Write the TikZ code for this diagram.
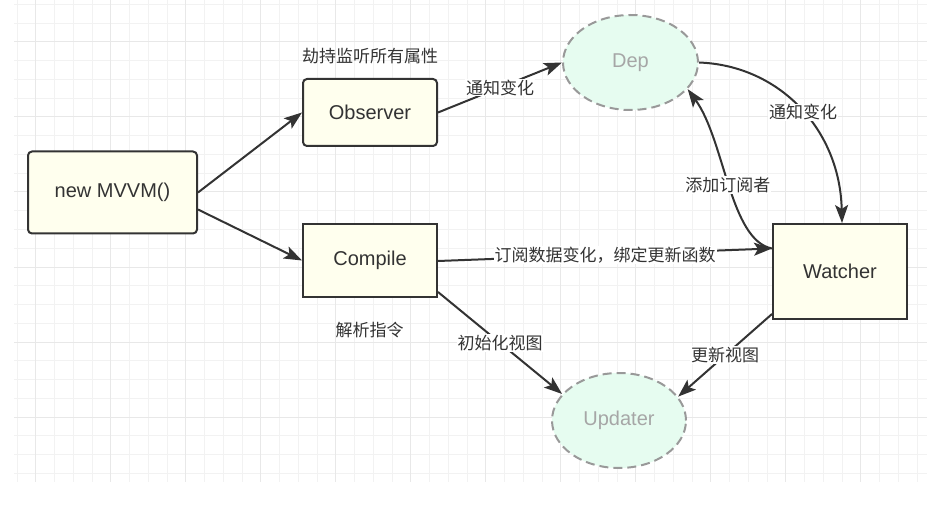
\documentclass[tikz,border=0pt]{standalone}
\usepackage{fontspec}
\setmainfont{Liberation Sans}
\newfontfamily\cjk{Noto Sans CJK SC}
\usetikzlibrary{arrows.meta,shapes.geometric}
\definecolor{boxfill}{HTML}{FFFFEE}
\definecolor{depfill}{HTML}{E6FCF0}
\definecolor{inkgray}{HTML}{333333}
\tikzset{
  classbox/.style={draw=inkgray, line width=2pt, fill=boxfill, text=inkgray,
    font=\fontsize{20}{24}\selectfont, inner sep=0pt},
  roundbox/.style={classbox, rounded corners=4pt},
  helper/.style={ellipse, draw=black!40, dash pattern=on 9pt off 5pt, line width=2pt,
    fill=depfill, text=black!35, font=\fontsize{20}{24}\selectfont, inner sep=0pt},
  flow/.style={draw=inkgray, line width=2pt, -{Stealth[length=18pt,width=13pt,inset=4pt]}},
  note/.style={font=\cjk\fontsize{17}{20}\selectfont, text=inkgray, inner sep=1pt},
  flownote/.style={note, fill=white},
  minorgrid/.style={draw=black!5, line width=1pt},
  majorgrid/.style={draw=black!9, line width=1pt},
}
\begin{document}
\begin{tikzpicture}[x=1pt,y=-1pt]
\useasboundingbox (0,0) rectangle (938,508);
% Background grid.
\foreach \k in {0,...,48} {\draw[minorgrid] ({17+18.75*\k},0) -- ({17+18.75*\k},482);}
\foreach \k in {0,...,25} {\draw[minorgrid] (14,{4.5+18.75*\k}) -- (927,{4.5+18.75*\k});}
\foreach \k in {0,...,11} {\draw[majorgrid] ({35.75+75*\k},0) -- ({35.75+75*\k},482);}
\foreach \k in {0,...,5} {\draw[majorgrid] (14,{42+75*\k}) -- (927,{42+75*\k});}

\node[roundbox, minimum width=169pt, minimum height=82pt] (mvvm) at (112.5,192.5) {new MVVM()};
\node[roundbox, minimum width=134pt, minimum height=67pt] (observer) at (370,112.5) {Observer};
\node[classbox, minimum width=134pt, minimum height=73pt] (compile) at (370,260.5) {Compile};
\node[classbox, minimum width=134pt, minimum height=95pt] (watcher) at (840,271.5) {Watcher};
\node[helper, minimum width=135pt, minimum height=95pt] (dep) at (630.5,62.5) {Dep};
\node[helper, minimum width=134pt, minimum height=95pt] (updater) at (619,420.5) {Updater};

\node[note] (hijack) at (370,56) {劫持监听所有属性};
\node[note] (parse) at (369.5,330) {解析指令};

% Observer and Compile.
\draw[flow] (mvvm.east) -- (observer.west);
\draw[flow] ([yshift=-17pt]mvvm.east) -- (compile.west);
\draw[flow] (observer.east) -- node[flownote] {通知变化} (dep.west);
% Dep and Watcher.
\draw[flow] (dep.east) .. controls +(81,3) and +(-2,-93) .. node[flownote, pos=0.52] {通知变化} ([xshift=2pt]watcher.north);
\draw[flow] ([yshift=23pt]watcher.west) .. controls +(-42,-8) and +(37,51) .. node[flownote] {添加订阅者} (dep.-25);
\draw[flow] ([yshift=-0.5pt]compile.east) -- node[flownote] {订阅数据变化，绑定更新函数} ([yshift=23pt]watcher.west);
% Updater.
\draw[flow] ([yshift=6pt]compile.south east) -- node[flownote] {初始化视图} (updater.155);
\draw[flow] ([yshift=6pt]watcher.south west) -- node[flownote] {更新视图} (updater.22);
\end{tikzpicture}
\end{document}
